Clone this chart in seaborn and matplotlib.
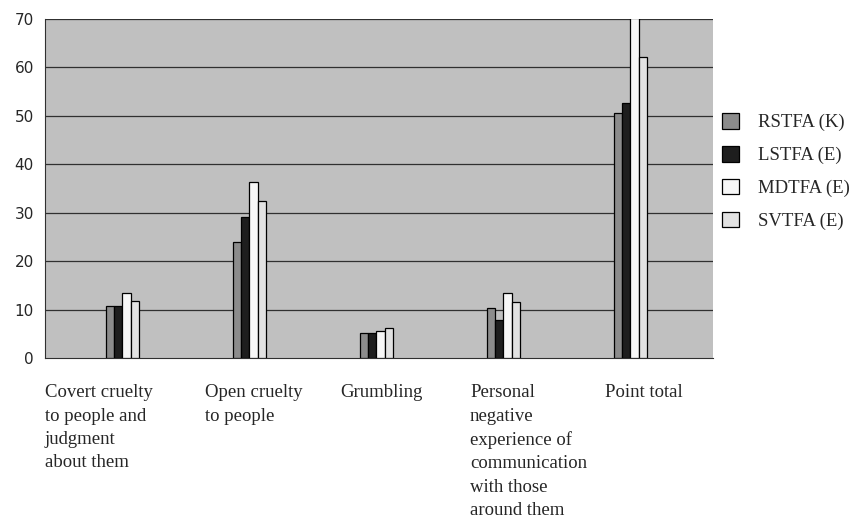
import matplotlib
matplotlib.use('Agg')
import matplotlib.pyplot as plt
import seaborn as sns
import numpy as np
import pandas as pd

# data
categories = ['Covert cruelty\nto people and\njudgment\nabout them',
              'Open cruelty\nto people',
              'Grumbling',
              'Personal\nnegative\nexperience of\ncommunication\nwith those\naround them',
              'Point total']
series = ['RSTFA (K)', 'LSTFA (E)', 'MDTFA (E)', 'SVTFA (E)']
rstfa = [10.7, 24.0, 5.2, 10.3, 50.6]
lstfa = [10.7, 29.1, 5.2, 7.9, 52.7]
mdtfa = [13.5, 36.4, 5.6, 13.4, 70.2]
svtfa = [11.7, 32.4, 6.2, 11.6, 62.2]

rows = []
for s, vals in zip(series, [rstfa, lstfa, mdtfa, svtfa]):
    for c, v in zip(categories, vals):
        rows.append({'cat': c, 'series': s, 'value': v})
df = pd.DataFrame(rows)

colors = ['#8c8c8c', '#1e1e1e', '#f7f7f7', '#e2e2e2']

sns.set_style('white')
plt.rcParams['font.family'] = ['Liberation Serif', 'DejaVu Serif']

fig = plt.figure(figsize=(8.65, 5.2), dpi=100)
ax = fig.add_axes([45/865, 1-358/520, 668/865, 339/520])
ax.set_facecolor('#c0c0c0')

sns.barplot(data=df, x='cat', y='value', hue='series', palette=colors,
            width=0.26, edgecolor='black', linewidth=0.9, ax=ax, zorder=3)

ax.set_ylim(0, 70)
ax.set_xlim(-0.61, 4.65)
ax.set_yticks(range(0, 71, 10))
ax.set_yticklabels([str(v) for v in range(0, 71, 10)], family='DejaVu Sans', fontsize=11)
for y in range(10, 71, 10):
    ax.axhline(y, color='#303030', lw=0.9, zorder=1)

# x axis: minor ticks only, labels drawn as text below
x0 = -0.61
ax.set_xticks([x0 + k * 40 / 127 for k in range(17)])
ax.set_xticklabels([])
ax.tick_params(axis='x', direction='out', length=5, width=1, color='#303030')
ax.tick_params(axis='y', direction='out', length=5, width=1, color='#303030', pad=3)
ax.set_xlabel('')
ax.set_ylabel('')
for sp in ['top', 'right']:
    ax.spines[sp].set_visible(False)
ax.spines['left'].set_color('#303030')
ax.spines['bottom'].set_color('#303030')

label_x = [0.0, 0.2395, 0.4416, 0.6362, 0.8383]
for lx, lab in zip(label_x, categories):
    ax.text(lx, -0.078, lab, transform=ax.transAxes, ha='left', va='top',
            fontsize=13.5, linespacing=1.48)

ax.legend(loc='upper left', bbox_to_anchor=(722/865, 1-113/520),
          bbox_transform=fig.transFigure, borderaxespad=0, borderpad=0,
          frameon=False, fontsize=13.5, handlelength=0.9, handleheight=0.9,
          labelspacing=0.78, handletextpad=1.0)

plt.savefig('out.png', dpi=100)
